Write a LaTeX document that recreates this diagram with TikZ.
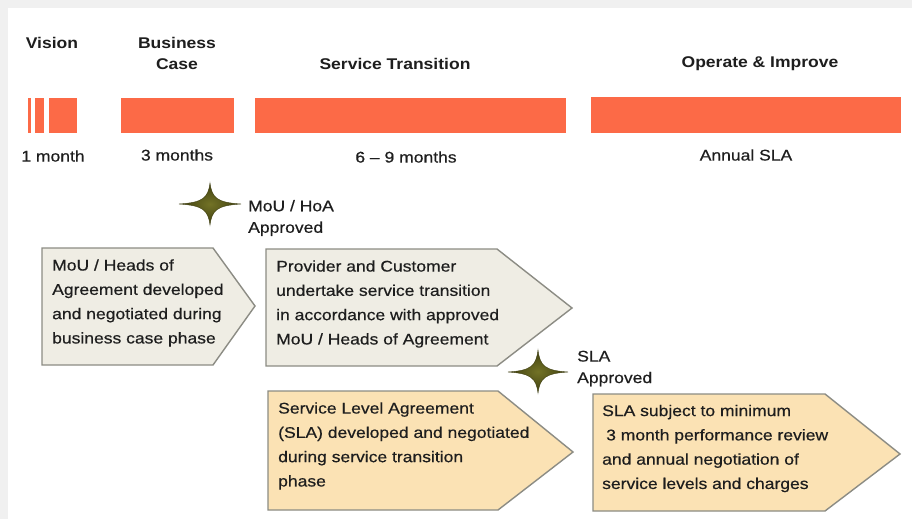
\documentclass[tikz,border=0pt]{standalone}
\usepackage{fontspec}
\setmainfont{Liberation Sans}[FakeStretch=1.13]
\newfontfamily\boxfont{Liberation Sans}[Ligatures=TeX,FakeStretch=1.13,FakeBold=0.5]
\definecolor{barcol}{HTML}{FC6A47}
\definecolor{greyfill}{HTML}{EFEDE4}
\definecolor{peachfill}{HTML}{FBE2B4}
\definecolor{edgecol}{HTML}{8C8C84}
\definecolor{inkcol}{HTML}{1E1E1E}
\definecolor{staron}{HTML}{727226}
\definecolor{staroff}{HTML}{3E3E10}
\definecolor{framecol}{HTML}{F0F0F0}
\begin{document}
\begin{tikzpicture}[x=1pt,y=-1pt,
  bar/.style={fill=barcol,draw=none},
  head/.style={font=\fontsize{15.5}{21}\bfseries\selectfont,text=inkcol,inner sep=0pt,align=center},
  dur/.style={font=\fontsize{15.5}{19}\boxfont,text=inkcol,inner sep=0pt},
  boxtext/.style={font=\fontsize{15.5}{24.3}\boxfont,text=inkcol,inner sep=0pt,align=left,anchor=west},
  milestone/.style={font=\fontsize{15.5}{21.5}\boxfont,text=inkcol,inner sep=0pt,align=left,anchor=west},
  chevron/.style={draw=edgecol,line width=1.4pt,line join=miter},
  star/.style={draw=staroff,line width=0.4pt,shading=radial,inner color=staron,outer color=staroff}]

% page and frame strips
\useasboundingbox (0,0) rectangle (912,519);
\fill[white] (0,0) rectangle (912,519);
\fill[framecol] (0,0) rectangle (912,8);
\fill[framecol] (0,0) rectangle (8,519);

% phase headings
\node[head] (hvision) at (52,43) {Vision};
\node[head] (hcase) at (177,53.5) {Business\\Case};
\node[head] (htrans) at (395,64) {Service Transition};
\node[head] (hoper) at (760,64) {Operate \& Improve};

% timeline bars
\fill[bar] (28,98) rectangle (30.5,133);
\fill[bar] (34.5,98) rectangle (44,133);
\fill[bar] (48.5,98) rectangle (77,133);
\fill[bar] (121,98) rectangle (234,133);
\fill[bar] (255,98) rectangle (566,133);
\fill[bar] (591,97) rectangle (901,133);

% durations
\node[dur] (dvision) at (53,156) {1 month};
\node[dur] (dcase) at (177,155) {3 months};
\node[dur] (dtrans) at (406,157) {6 \textendash\ 9 months};
\node[dur] (doper) at (746,155) {Annual SLA};

% milestone stars: four concave arms
\path[star] (210,204) ++(31,0)
  .. controls ++(-24,-1.5) and ++(2,15) .. ++(-31,-21)
  .. controls ++(-2,15) and ++(24,-1.5) .. ++(-31,21)
  .. controls ++(24,1.5) and ++(-2,-15) .. ++(31,21)
  .. controls ++(2,-15) and ++(-24,1.5) .. cycle;
\node[milestone] (mhoa) at (248,218) {MoU / HoA\\Approved};

\path[star] (538,372) ++(30,0)
  .. controls ++(-23,-1.5) and ++(2,16) .. ++(-30,-22)
  .. controls ++(-2,16) and ++(23,-1.5) .. ++(-30,22)
  .. controls ++(23,1.5) and ++(-2,-15) .. ++(30,21)
  .. controls ++(2,-15) and ++(-23,1.5) .. cycle;
\node[milestone] (msla) at (577,368.5) {SLA\\Approved};

% activity chevrons
\draw[chevron,fill=greyfill] (42,248) -- (213,248) -- (255,306) -- (213,365) -- (42,365) -- cycle;
\node[boxtext] (tmou) at (52,303) {MoU / Heads of\\Agreement developed\\and negotiated during\\business case phase};

\draw[chevron,fill=greyfill] (266,249) -- (497,249) -- (572,308) -- (497,366) -- (266,366) -- cycle;
\node[boxtext] (tprov) at (276,304) {Provider and Customer\\undertake service transition\\in accordance with approved\\MoU / Heads of Agreement};

\draw[chevron,fill=peachfill] (268,391) -- (498,391) -- (573,452) -- (498,510) -- (268,510) -- cycle;
\node[boxtext] (tsla) at (278,446) {Service Level Agreement\\(SLA) developed and negotiated\\during service transition\\phase};

\draw[chevron,fill=peachfill] (593,394) -- (825,394) -- (900,454) -- (825,511) -- (593,511) -- cycle;
\node[boxtext] (trev) at (602,448.5) {SLA subject to minimum\\\hspace{4pt}3 month performance review\\and annual negotiation of\\service levels and charges};

\end{tikzpicture}
\end{document}
